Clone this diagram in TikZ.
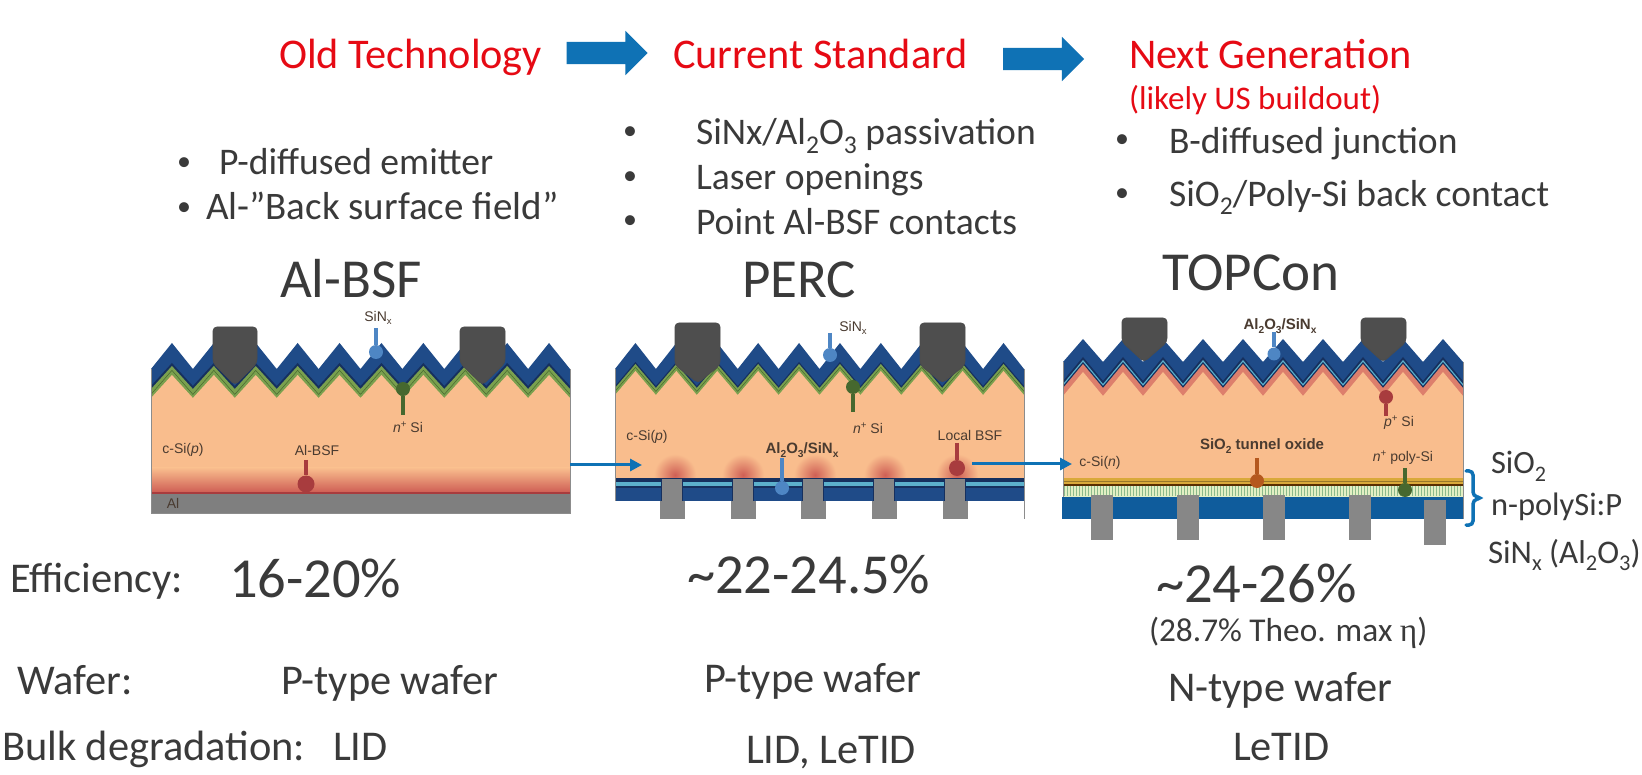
\documentclass[tikz,border=0pt]{standalone}
\usepackage{fontspec}
\usepackage{graphicx}
\setmainfont{Carlito}
\newfontfamily\cellf{Liberation Sans}
\newfontfamily\serf{Liberation Serif}
\usetikzlibrary{arrows.meta,shapes.arrows}
\definecolor{ink}{HTML}{3A3A3A}
\definecolor{redt}{HTML}{E60A14}
\definecolor{bluea}{HTML}{0F72B5}
\definecolor{navy}{HTML}{1F4B88}
\definecolor{navyd}{HTML}{16305E}
\definecolor{grn}{HTML}{7AA04E}
\definecolor{grnd}{HTML}{46682F}
\definecolor{si}{HTML}{F9BD8D}
\definecolor{redb}{HTML}{CF5F55}
\definecolor{redp}{HTML}{A83C3E}
\definecolor{finger}{HTML}{4E4E4E}
\definecolor{alu}{HTML}{7F7F7F}
\definecolor{cont}{HTML}{878787}
\definecolor{lab}{HTML}{4A3B30}
\definecolor{slab}{HTML}{0F5C9C}
\definecolor{steel}{HTML}{4E86C4}
\definecolor{cyanl}{HTML}{5CB0CC}
\definecolor{gold}{HTML}{D9A93A}
\definecolor{paleg}{HTML}{E3EFC4}
\definecolor{rust}{HTML}{B5581E}
\definecolor{redsoft}{HTML}{DD7F6C}
\tikzset{
  txt/.style={anchor=base west,inner sep=0pt,outer sep=0pt,text=ink},
  red title/.style={txt,text=redt},
  lbl/.style={anchor=center,inner sep=0pt,outer sep=0pt,text=lab,font=\cellf\fontsize{14}{14}\selectfont},
  lblb/.style={lbl,font=\cellf\bfseries\fontsize{15}{15}\selectfont},
  block/.style={single arrow,fill=bluea,minimum height=81,single arrow head extend=11,inner ysep=11pt,inner xsep=0pt,outer sep=0pt},
  link/.style={draw=bluea,line width=3,-{Triangle[length=12,width=12]}},
  ball/.style={circle,inner sep=0pt,outer sep=0pt},
}
\newcommand{\sbx}[1]{\raisebox{-0.22em}{\scalebox{0.68}{#1}}}
\newcommand{\tx}[6][txt]{\node[#1] (#2) at (#3,#4) {\fontsize{#5}{#5}\selectfont #6};}
\newcommand{\bul}[3]{\node[anchor=center,inner sep=0pt,text=ink] (#1) at (#2,#3) {\fontsize{28}{28}\selectfont •};}
% colour, x0, period, y valley, y peak, y bottom
\newcommand{\zig}[6]{\fill[#1] (#2,#6) -- (#2,#4) \foreach \i in {1,...,20}{ -- ({#2+\i*#3/2},{#4+(#5-#4)*mod(\i,2)}) } -- ({#2+10*#3},#6) -- cycle;}
% x left, x right, y top, y shoulder, x tip, y tip
\newcommand{\fing}[6]{\draw[fill=finger,draw=black!70,line width=0.8,rounded corners=4] (#1,#4) -- (#1,#3) -- (#2,#3) -- (#2,#4) -- (#5,#6) -- cycle;}
% name, x, y top, y ball, r, colour
\newcommand{\pin}[6]{\coordinate (#1t) at (#2,#3); \node[ball,fill=#6,minimum size=#5*2] (#1b) at (#2,#4) {}; \draw[#6,line width=3.5] (#1t) -- (#1b);}
\begin{document}
\begin{tikzpicture}[x=1pt,y=-1pt]
\useasboundingbox (0,0) rectangle (1642,775);
\fill[white] (0,0) rectangle (1642,775);

% ---- headings
\tx[red title]{h1}{279}{69}{42.3}{Old Technology}
\tx[red title]{h2}{673}{69}{42.3}{Current Standard}
\tx[red title]{h3}{1129}{69}{42.3}{Next Generation}
\tx[red title]{h3b}{1129}{110}{33}{(likely US buildout)}
\node[block] (ba1) at (601.5,53) {};
\node[block] (ba2) at (1038,59) {};

% ---- bullets
\bul{b11}{184}{164}\bul{b12}{184}{209}
\tx{t11}{219}{175}{37.6}{P-diffused emitter}
\tx{t12}{206}{220}{39}{Al-”Back surface field”}
\bul{b21}{630}{133}\bul{b22}{630}{178}\bul{b23}{630}{222}
\tx{t21}{696}{145}{37.6}{SiNx/Al\sbx{2}O\sbx{3} passivation}
\tx{t22}{696}{189.5}{37.6}{Laser openings}
\tx{t23}{696}{234.5}{37.6}{Point Al-BSF contacts}
\bul{b31}{1122}{141}\bul{b32}{1122}{195}
\tx{t31}{1169}{153.5}{37.6}{B-diffused junction}
\tx{t32}{1169}{206.5}{37.6}{SiO\sbx{2}/Poly-Si back contact}

% ---- cell names
\tx{n1}{280}{298}{55}{Al-BSF}
\tx{n2}{742}{298}{55}{PERC}
\tx{n3}{1162}{291}{55}{TOPCon}

% ---- Al-BSF cell
\zig{navy}{151}{41.9}{369}{343}{500}
\zig{navyd}{151}{41.9}{386}{363}{500}
\zig{grn}{151}{41.9}{389}{366}{500}
\zig{grnd}{151}{41.9}{394}{370}{500}
\zig{grn}{151}{41.9}{395}{371}{500}
\zig{si}{151}{41.9}{398}{375}{500}
\shade[top color=si,bottom color=redb] (151,468) rectangle (570,492);
\fill[redp] (151,492) rectangle (570,494);
\fill[alu] (151,494) rectangle (570,513);
\draw[black!45,line width=1] (151,369) -- (151,513) -- (570,513) -- (570,369);
\fing{213}{257}{327}{363}{235}{385}
\fing{460}{505}{327}{363}{482.5}{385}
\pin{p1a}{376}{328}{352}{7}{steel}
\pin{p1b}{403}{415}{389}{7}{grnd}
\pin{p1c}{306}{460}{484}{8.5}{redp}
\node[lbl] (l1a) at (378,318) {SiN\sbx{x}};
\node[lbl] (l1b) at (408,427) {\textit{n}\raisebox{.35em}{\scalebox{.7}{+}} Si};
\node[lbl] (l1c) at (183,450) {c-Si(\textit{p})};
\node[lbl] (l1d) at (317,450) {Al-BSF};
\node[lbl] (l1e) at (173,503) {Al};

% ---- PERC cell
\zig{navy}{615}{40.9}{369}{343}{500}
\zig{navyd}{615}{40.9}{386}{362}{500}
\zig{grn}{615}{40.9}{388}{364}{500}
\zig{grnd}{615}{40.9}{391}{367}{500}
\zig{grn}{615}{40.9}{392}{368}{500}
\zig{si}{615}{40.9}{395}{371}{500}
\begin{scope}
\clip (615,450) rectangle (1024,478);
\foreach \cx in {675,743,815,885,957}{
  \shade[inner color=redb,outer color=si] (\cx,475) circle (21);
}
\end{scope}
\fill[navyd] (615,478) rectangle (1024,482);
\fill[cyanl] (615,482) rectangle (1024,486);
\fill[navyd] (615,486) rectangle (1024,488);
\fill[navy] (615,488) rectangle (1024,501);
\draw[black!45,line width=1] (615,369) -- (615,501);
\draw[black!45,line width=1] (1024,369) -- (1024,519);
\foreach \cx in {672,743,813,884,955}{
  \fill[navyd] ({\cx-11},478) rectangle ({\cx+11},501);
  \fill[cont] ({\cx-10},479) rectangle ({\cx+10},501);
  \fill[cont] ({\cx-12.5},501) rectangle ({\cx+12.5},519);
}
\fing{675}{720}{323}{365}{698}{383}
\fing{920}{965}{323}{365}{942.5}{383}
\pin{p2a}{830}{333}{355}{7}{steel}
\pin{p2b}{853}{412}{387}{7}{grnd}
\pin{p2c}{782}{458}{488}{7}{steel}
\pin{p2d}{957}{443}{468}{8}{redp}
\node[lbl] (l2a) at (853,328) {SiN\sbx{x}};
\node[lbl] (l2b) at (868,428) {\textit{n}\raisebox{.35em}{\scalebox{.7}{+}} Si};
\node[lbl] (l2c) at (647,437) {c-Si(\textit{p})};
\node[lblb] (l2d) at (802,450) {Al\sbx{2}O\sbx{3}/SiN\sbx{x}};
\node[lbl] (l2e) at (970,435) {Local BSF};

% ---- TOPCon cell
\zig{navy}{1063}{40}{362}{339}{500}
\zig{navyd}{1063}{40}{381}{357}{500}
\zig{cyanl}{1063}{40}{384}{360}{500}
\zig{navyd}{1063}{40}{386}{362}{500}
\zig{redsoft}{1063}{40}{388}{364}{500}
\zig{si}{1063}{40}{396}{372}{500}
\fill[gold] (1063,478) rectangle (1463,485);
\fill[black!65!orange] (1063,484.5) rectangle (1463,486);
\fill[black!30!gold] (1063,481) rectangle (1463,481.7);
\fill[paleg] (1063,486) rectangle (1463,497);
\foreach \xx in {1064,1067,...,1463}{
  \draw[green!40!black!45,line width=0.6] (\xx,486) -- (\xx,496);
}
\fill[slab] (1062,497) rectangle (1463,519);
\draw[black!45,line width=1] (1063,362) -- (1063,497);
\draw[black!45,line width=1] (1463,362) -- (1463,519);
\foreach \cx in {1091,1177,1263,1349}{
  \fill[cont] (\cx,495) rectangle ({\cx+21.5},540);
}
\fill[cont] (1424,500) rectangle (1445.5,545);
\fing{1122}{1167}{318}{342}{1144}{362}
\fing{1361}{1406}{318}{342}{1383}{362}
\pin{p3a}{1274}{332}{354}{6.5}{steel}
\pin{p3b}{1386}{416}{397}{7}{redp}
\pin{p3c}{1257}{458}{481}{7}{rust}
\pin{p3d}{1405}{468}{490}{7}{grnd}
\node[lblb] (l3a) at (1280,326) {Al\sbx{2}O\sbx{3}/SiN\sbx{x}};
\node[lbl] (l3b) at (1399,423) {\textit{p}\raisebox{.35em}{\scalebox{.7}{+}} Si};
\node[lblb] (l3c) at (1262,446) {SiO\sbx{2} tunnel oxide};
\node[lbl] (l3d) at (1403,458) {\textit{n}\raisebox{.35em}{\scalebox{.7}{+}} poly-Si};
\node[lbl] (l3e) at (1100,463) {c-Si(\textit{n})};

% ---- process links
\coordinate (o1) at (570,465);
\coordinate (i2) at (642,465);
\coordinate (o2) at (972,464);
\coordinate (i3) at (1072,464);
\draw[link] (o1) -- (i2);
\draw[link] (o2) -- (i3);

% ---- brace + layers
\draw[bluea,line width=3.5,line cap=round,rounded corners=4] (1466,471) -- (1473,471) -- (1473,496) -- (1482,498) -- (1473,500) -- (1473,525) -- (1466,525);
\tx{s1}{1491}{474}{32.5}{SiO\sbx{2}}
\tx{s2}{1491}{515}{32.5}{n-polySi:P}
\tx{s3}{1488}{563}{33}{SiN\sbx{x} (Al\sbx{2}O\sbx{3})}

% ---- table
\tx{e0}{10}{592}{42.4}{Efficiency:}
\tx{e1}{229}{597}{56.5}{16-20\%}
\tx{e2}{687}{593}{56.5}{\textasciitilde 22-24.5\%}
\tx{e3}{1156}{602}{56.5}{\textasciitilde 24-26\%}
\tx{e4}{1149}{641}{33.3}{(28.7\% Theo. max {\serf η})}
\tx{w0}{17}{694}{42.4}{Wafer:}
\tx{w1}{281}{694}{42.4}{P-type wafer}
\tx{w2}{704}{692}{42.4}{P-type wafer}
\tx{w3}{1168}{701}{42.4}{N-type wafer}
\tx{d0}{2}{760}{42.4}{Bulk degradation:}
\tx{d1}{333}{760}{42.4}{LID}
\tx{d2}{746}{763}{42.4}{LID, LeTID}
\tx{d3}{1233}{760}{42.4}{LeTID}
\end{tikzpicture}
\end{document}
